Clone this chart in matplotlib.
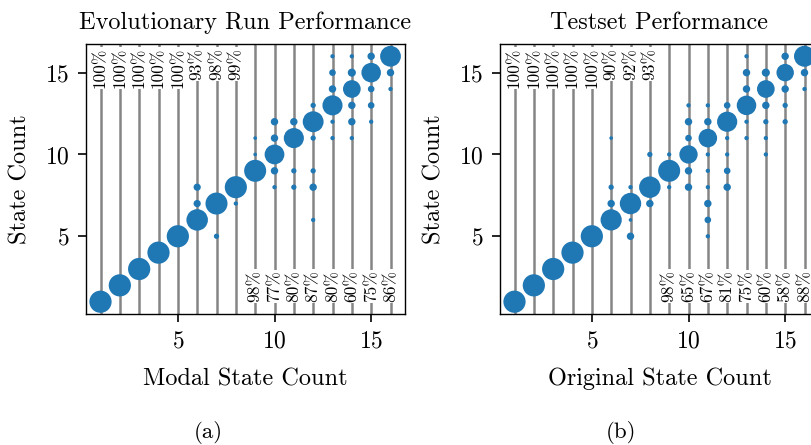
import matplotlib
matplotlib.use('Agg')
import matplotlib.pyplot as plt
import numpy as np

plt.rcParams['font.family'] = ['cmr10']
plt.rcParams['mathtext.fontset'] = 'cm'
plt.rcParams['axes.formatter.use_mathtext'] = True
plt.rcParams['axes.unicode_minus'] = False

# state counts 1..16, share of runs landing on the diagonal
states = list(range(1, 17))
evo_acc = [100, 100, 100, 100, 100, 93, 98, 99, 98, 77, 80, 87, 80, 60, 75, 86]
test_acc = [100, 100, 100, 100, 100, 90, 92, 93, 98, 65, 67, 81, 75, 60, 58, 88]

# off-diagonal outcomes (column, state count, percent of runs)
evo_off_x = [6, 6, 7, 8, 9, 9, 10, 10, 10, 10, 11, 11, 11,
             12, 12, 12, 12, 12, 13, 13, 13, 13, 13,
             14, 14, 14, 14, 14, 15, 15, 15, 15, 16, 16]
evo_off_y = [7, 8, 5, 7, 10, 11, 12, 11, 9, 8, 12, 9, 8,
             13, 11, 9, 8, 6, 16, 15, 14, 12, 11,
             16, 15, 13, 12, 11, 16, 14, 13, 12, 15, 14]
evo_off_pct = [6.5, 6.5, 2.5, 1.2, 0.6, 0.6, 7, 7, 7, 1.2, 7, 2.5, 2.5,
               2.5, 2.5, 2.5, 7, 1.2, 1.2, 5, 7, 1.2, 1.2,
               1.2, 9, 7, 7, 1.2, 7, 5, 5, 1.2, 7, 1.2]

test_off_x = [6, 6, 6, 7, 7, 7, 8, 8, 9, 9,
              10, 10, 10, 10, 10,
              11, 11, 11, 11, 11, 11, 11, 11,
              12, 12, 12, 12, 12,
              13, 13, 13, 13, 13,
              14, 14, 14, 14, 14,
              15, 15, 15, 15, 16, 16]
test_off_y = [7, 8, 11, 8, 6, 5, 10, 7, 10, 8,
              13, 12, 11, 9, 8,
              13, 12, 10, 9, 8, 7, 6, 5,
              13, 11, 10, 9, 8,
              16, 15, 14, 12, 11,
              15, 13, 12, 11, 10,
              16, 14, 13, 12, 15, 14]
test_off_pct = [7, 2.5, 0.6, 1.2, 0.6, 7, 2.5, 7, 1.2, 1.2,
                1.2, 7, 5, 7, 7,
                1.2, 7, 1.2, 1.2, 1.2, 7, 5, 1.2,
                5, 1.2, 1.2, 5, 7,
                1.2, 7, 7, 1.2, 1.2,
                9, 7, 2.5, 1.2, 1.2,
                7, 7, 2.5, 2.5, 7, 1.2]

S_MAX = 210


def draw_panel(ax, acc, off_x, off_y, off_pct, title, xlabel):
    for x in states:
        ax.axvline(x, color='0.52', lw=1.8, zorder=1)
    xs = states + off_x
    ys = states + off_y
    pct = np.array(acc + off_pct, dtype=float)
    ax.scatter(xs, ys, s=pct / 100 * S_MAX, color='#1f77b4',
               linewidths=1.5, zorder=3)
    trans = ax.get_xaxis_transform()
    for x, a in zip(states, acc):
        if x <= 8:
            y, va = 0.985, 'top'
        else:
            y, va = 0.043, 'bottom'
        ax.text(x, y, f'{a}%', transform=trans, rotation=90,
                ha='center', va=va, fontsize=12.5, zorder=2,
                bbox=dict(facecolor='white', edgecolor='none', pad=0.8))
    ax.set_xlim(0.25, 16.75)
    ax.set_ylim(0.25, 16.75)
    ax.set_xticks([5, 10, 15])
    ax.set_yticks([5, 10, 15])
    ax.tick_params(direction='out', length=6, width=1.2, labelsize=17, pad=6)
    for sp in ax.spines.values():
        sp.set_linewidth(1.0)
    ax.set_title(title, fontsize=17.5, pad=11)
    ax.set_xlabel(xlabel, fontsize=17.5)
    ax.set_ylabel('State Count', fontsize=17.5)
    ax.xaxis.set_label_coords(0.5, -0.20)
    ax.yaxis.set_label_coords(-0.17, 0.5)


fig = plt.figure(figsize=(8.11, 4.45), dpi=100)
ax1 = fig.add_axes([86 / 811, 131 / 445, 319 / 811, 270 / 445])
ax2 = fig.add_axes([500 / 811, 131 / 445, 319 / 811, 270 / 445])

draw_panel(ax1, evo_acc, evo_off_x, evo_off_y, evo_off_pct,
           'Evolutionary Run Performance', 'Modal State Count')
draw_panel(ax2, test_acc, test_off_x, test_off_y, test_off_pct,
           'Testset Performance', 'Original State Count')

fig.text(208 / 811, 1 - 433 / 445, '(a)', ha='center', va='center', fontsize=16.5)
fig.text(621 / 811, 1 - 433 / 445, '(b)', ha='center', va='center', fontsize=16.5)

fig.savefig('out.png', dpi=100)
